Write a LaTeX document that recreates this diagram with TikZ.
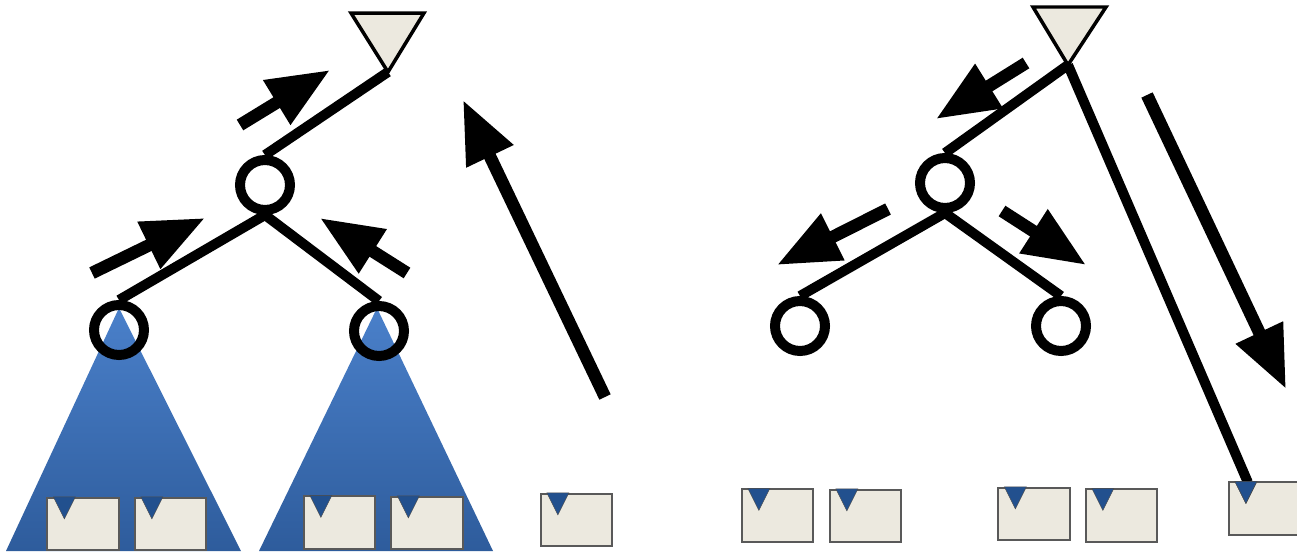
\documentclass[tikz,border=0pt]{standalone}
\usetikzlibrary{arrows.meta}
\definecolor{leafbeige}{HTML}{ECE9DF}
\definecolor{treetop}{HTML}{4A80CA}
\definecolor{treebot}{HTML}{2E5C9C}
\definecolor{markblue}{HTML}{22508E}

\begin{document}
\begin{tikzpicture}[x=0.02cm, y=-0.02cm,
    vert/.style={circle, draw=black, line width=0.2cm, minimum size=1.0cm, inner sep=0pt},
    edge/.style={line width=0.2cm, draw=black},
    leaf/.style={rectangle, draw=black!65, fill=leafbeige, line width=0.035cm, minimum width=1.43cm, minimum height=1.05cm, inner sep=0pt},
    marker/.style={fill=markblue, draw=black!70, line width=0.01cm},
    subtree/.style={top color=treetop, bottom color=treebot},
    rootmark/.style={fill=leafbeige, draw=black, line width=0.07cm},
    flow/.style={-{Triangle[length=1.25cm, width=0.98cm]}, line width=0.25cm}
]
    \useasboundingbox (0,0) rectangle (1297,551);

    % Subtrees
    \shade[subtree] (119,308) -- (6,551) -- (241,551) -- cycle;
    \shade[subtree] (377,308) -- (259,551) -- (493,551) -- cycle;

    % Nodes
    \coordinate (ltop) at (388,72);
    \coordinate (rtop) at (1068,65);
    \node[vert] (lroot) at (265,185) {};
    \node[vert] (lleft) at (119,330) {};
    \node[vert] (lright) at (379,331) {};
    \node[vert] (rroot) at (945,183) {};
    \node[vert] (rleft) at (800,326) {};
    \node[vert] (rright) at (1061,326) {};

    \node[leaf] (lb1) at (83,524) {};
    \node[leaf] (lb2) at (170.5,524) {};
    \node[leaf] (lb3) at (339.5,522.5) {};
    \node[leaf] (lb4) at (427,523) {};
    \node[leaf] (lb5) at (576.5,520) {};
    \node[leaf] (rb1) at (777.5,515.5) {};
    \node[leaf] (rb2) at (865.5,516) {};
    \node[leaf] (rb3) at (1034,514) {};
    \node[leaf] (rb4) at (1121.5,515.5) {};
    \node[leaf] (rb5) at (1264.5,508.5) {};
    \foreach \b in {lb1,lb2,lb3,lb4,lb5,rb1,rb2,rb3,rb4,rb5}
        \filldraw[marker] ([shift={(7,0)}]\b.north west) -- ++(22,0) -- ++(-11,22) -- cycle;

    % Edges
    \draw[edge] (ltop) -- (lroot.north);
    \draw[edge] (lroot.south) -- (lleft.north);
    \draw[edge] (lroot.south) -- (lright.north);
    \draw[edge] (rtop) -- (rroot.north);
    \draw[edge] (rroot.south) -- (rleft.north);
    \draw[edge] (rroot.south) -- (rright.north);
    \draw[edge] (rtop) -- ([shift={(20,1)}]rb5.north west);
    \filldraw[marker] ([shift={(7,0)}]rb5.north west) -- ++(22,0) -- ++(-11,22) -- cycle;

    \draw[rootmark] (ltop) -- (351,13) -- (424,13) -- cycle;
    \draw[rootmark] (rtop) -- (1033,7) -- (1106,7) -- cycle;

    % Arrows
    \coordinate (a1s) at (240,125); \coordinate (a1e) at (330,70);
    \coordinate (a2s) at (92,273);  \coordinate (a2e) at (205,218);
    \coordinate (a3s) at (407,273); \coordinate (a3e) at (320,218);
    \coordinate (a4s) at (605,397); \coordinate (a4e) at (463,100);
    \coordinate (b1s) at (1026,63); \coordinate (b1e) at (936,119);
    \coordinate (b2s) at (888,209); \coordinate (b2e) at (777,265);
    \coordinate (b3s) at (1002,211); \coordinate (b3e) at (1086,265);
    \coordinate (b4s) at (1147,95); \coordinate (b4e) at (1286,389);
    \foreach \s/\e in {a1s/a1e,a2s/a2e,a3s/a3e,a4s/a4e,b1s/b1e,b2s/b2e,b3s/b3e,b4s/b4e}
        \draw[flow] (\s) -- (\e);
\end{tikzpicture}
\end{document}
